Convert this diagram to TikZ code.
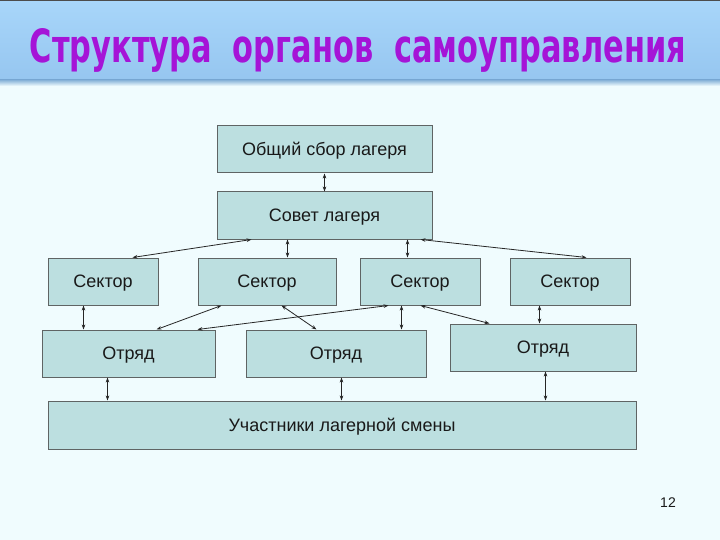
\documentclass[tikz,border=0pt]{standalone}
\usepackage{fontspec}
\setmainfont{Liberation Sans}
\newfontfamily\titlefont{DejaVu Sans Condensed}
\usetikzlibrary{arrows.meta,calc}
\definecolor{bgc}{RGB}{240,252,254}
\definecolor{bandtop}{RGB}{168,214,250}
\definecolor{bandbot}{RGB}{150,198,240}
\definecolor{boxfill}{RGB}{188,223,224}
\definecolor{boxline}{RGB}{95,100,100}
\definecolor{titlec}{RGB}{165,20,215}
\tikzset{
  box/.style={draw=boxline, fill=boxfill, line width=1pt, minimum height=47pt,
    inner sep=0pt, text height=12.5pt, text depth=0pt,
    font=\fontsize{18}{21}\selectfont, text=black!90},
  arr/.style={{Stealth[length=5pt,width=3.6pt]}-{Stealth[length=5pt,width=3.6pt]}, line width=0.8pt, black!85}
}
\begin{document}
\begin{tikzpicture}[x=1pt,y=-1pt]
\useasboundingbox (0,0) rectangle (720,540);
\fill[bgc] (0,0) rectangle (720,540);
\shade[top color=bandtop, bottom color=bandbot] (0,0) rectangle (720,80);
\shade[top color=bandbot!90!black, bottom color=bgc] (0,80) rectangle (720,86);
\draw[black!70, line width=1.5pt] (0,0.5) -- (720,0.5);
% title
\node[text=titlec, inner sep=0pt, anchor=base] (title) at (358,63) {\resizebox{656pt}{34pt}{\titlefont\bfseries Структура\ \ органов\ \ самоуправления}};
% boxes
\node[box, minimum width=215pt] (ob) at (324.5,149.5) {Общий сбор лагеря};
\node[box, minimum width=215pt] (sov) at (324.5,215.5) {Совет лагеря};
\node[box, minimum width=110pt] (s1) at (103,281.5) {Сектор};
\node[box, minimum width=138pt] (s2) at (267,281.5) {Сектор};
\node[box, minimum width=120pt] (s3) at (420,281.5) {Сектор};
\node[box, minimum width=120pt] (s4) at (570,281.5) {Сектор};
\node[box, minimum width=173pt] (o1) at (128.5,353.5) {Отряд};
\node[box, minimum width=180pt] (o2) at (336,353.5) {Отряд};
\node[box, minimum width=186pt] (o3) at (543,347.5) {Отряд};
\node[box, minimum width=588pt, minimum height=48pt] (u) at (342,425) {Участники лагерной смены};
\node[font=\fontsize{14}{16}\selectfont, text=black!90] (num) at (668,503) {12};
% connectors
\draw[arr] (ob.south) -- (sov.north);
\draw[arr] ([xshift=35pt]sov.south west) -- ([xshift=85pt]s1.north west);
\draw[arr] ([xshift=71pt]sov.south west) -- ([xshift=71pt]sov.south west |- s2.north);
\draw[arr] ([xshift=191pt]sov.south west) -- ([xshift=191pt]sov.south west |- s3.north);
\draw[arr] ([xshift=204pt]sov.south west) -- ([xshift=77pt]s4.north west);
\draw[arr] ([xshift=36pt]s1.south west) -- ([xshift=36pt]s1.south west |- o1.north);
\draw[arr] ([xshift=24pt]s2.south west) -- ([xshift=115pt]o1.north west);
\draw[arr] ([xshift=84pt]s2.south west) -- ([xshift=71pt]o2.north west);
\draw[arr] ([xshift=29pt]s3.south west) -- ([xshift=156pt]o1.north west);
\draw[arr] ([xshift=42pt]s3.south west) -- ([xshift=42pt]s3.south west |- o2.north);
\draw[arr] ([xshift=61pt]s3.south west) -- ([xshift=40pt]o3.north west);
\draw[arr] ([xshift=30pt]s4.south west) -- ([xshift=30pt]s4.south west |- o3.north);
\draw[arr] ([xshift=66pt]o1.south west) -- ([xshift=66pt]o1.south west |- u.north);
\draw[arr] ([xshift=96pt]o2.south west) -- ([xshift=96pt]o2.south west |- u.north);
\draw[arr] ([xshift=96pt]o3.south west) -- ([xshift=96pt]o3.south west |- u.north);
\end{tikzpicture}
\end{document}
